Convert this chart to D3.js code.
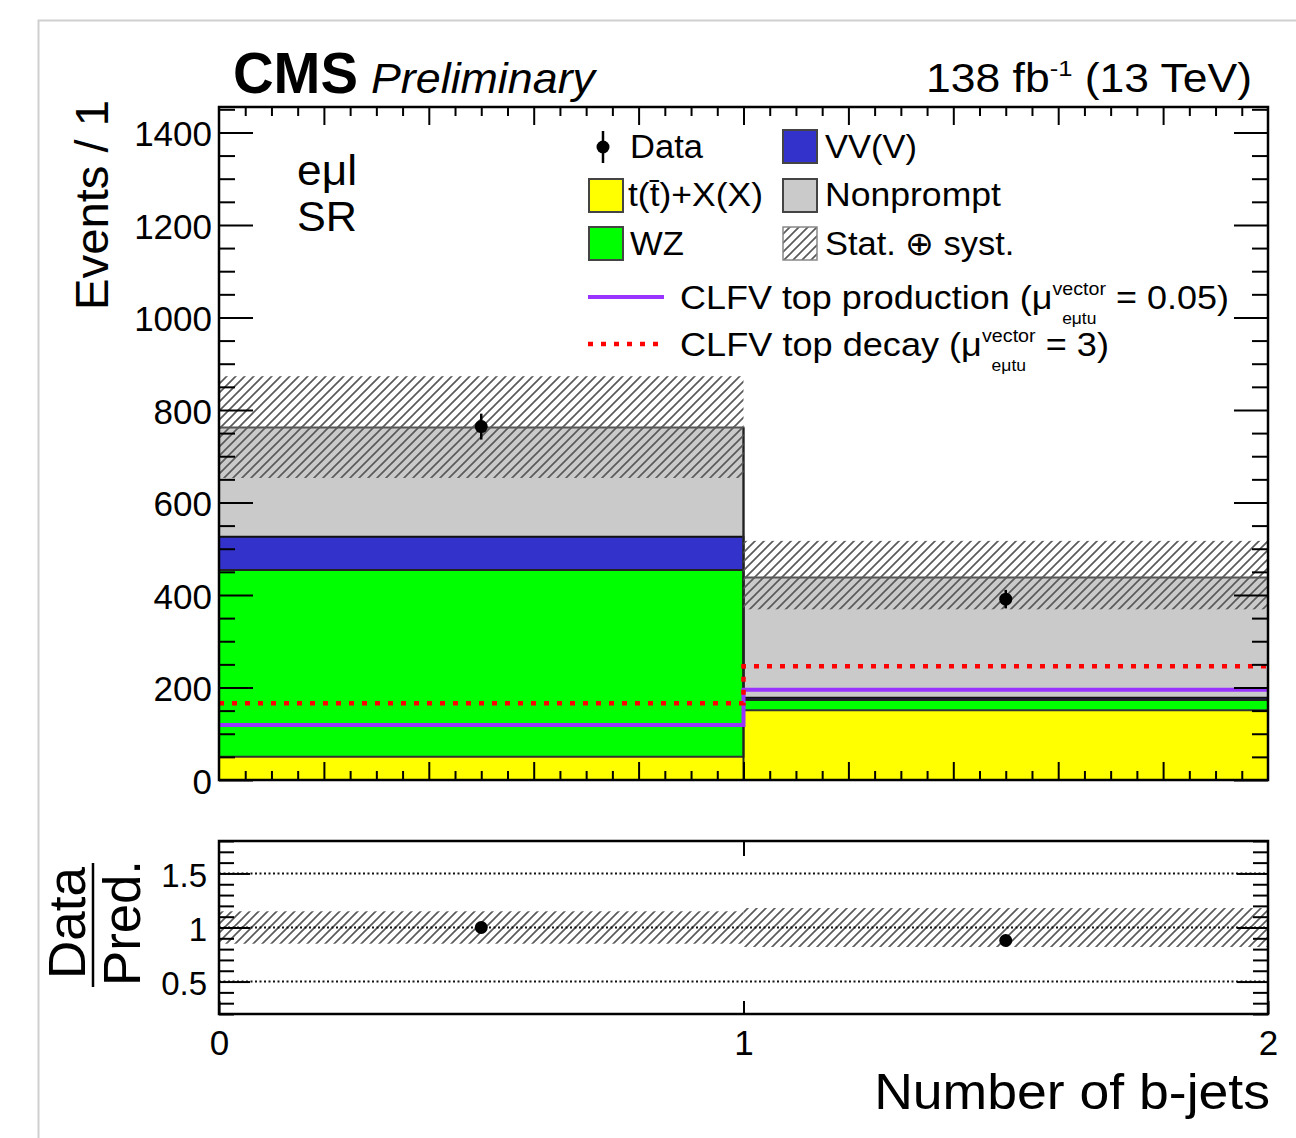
<!DOCTYPE html>
<html><head><meta charset="utf-8">
<script src="https://cdn.jsdelivr.net/npm/d3@7"></script>
<style>
html,body{margin:0;padding:0;background:#fff;}
svg{display:block;font-family:"Liberation Sans",Arial,Helvetica,sans-serif;}
</style></head>
<body>
<svg id="c" width="1296" height="1138"></svg>
<script>
// ---------------- data ----------------
const binEdges = [0, 1, 2];
const binCenters = [0.5, 1.5];
const xTickLabels = ["0", "1", "2"];
const yTicks = [0, 200, 400, 600, 800, 1000, 1200, 1400];
const ratioTicks = [0.5, 1, 1.5];
const bkgKeys = ["ttX", "WZ", "VVV", "Nonprompt"];
const bkgLabels = ["t(t\u0304)+X(X)", "WZ", "VV(V)", "Nonprompt"];
const ttX = [50, 151];
const wz = [404, 22];
const vvv = [72, 5];
const nonprompt = [236, 260];
const uncDown = [653, 369];
const uncUp = [873, 517];
const dataCounts = [764, 391];
const dataErr = [28, 20];
const clfvProd = [119, 195];
const clfvDecay = [166, 246];
const ratioVals = [1.00, 0.88];
const ratioErr = [0.04, 0.05];
const ratioUncDown = [0.85, 0.82];
const ratioUncUp = [1.15, 1.18];
const yMax = 1455;
const ratioRange = [0.2, 1.8];

// ---------------- setup ----------------
const svg = d3.select("#c");
const P = {l: 219, r: 1268, t: 107, b: 780};
const Rp = {t: 841, b: 1014};
const x = d3.scaleLinear().domain([0, 2]).range([P.l, P.r]);
const y = d3.scaleLinear().domain([0, yMax]).range([P.b, P.t]);
const yr = d3.scaleLinear().domain(ratioRange).range([Rp.b, Rp.t]);

const colors = {ttX: "#ffff00", WZ: "#00ff00", VVV: "#3333cc", Nonprompt: "#cacaca"};
const outline = {ttX: "#333", WZ: "#222", VVV: "#111", Nonprompt: "#555"};

// outer border
svg.append("rect").attr("x", 38.5).attr("y", 20.5).attr("width", 1400).attr("height", 1300)
  .attr("fill", "none").attr("stroke", "#cfcfcf").attr("stroke-width", 2);

// hatch pattern
const defs = svg.append("defs");
const pat = defs.append("pattern").attr("id", "hatch").attr("patternUnits", "userSpaceOnUse")
  .attr("width", 9).attr("height", 9);
pat.append("path").attr("d", "M-2,2 l4,-4 M0,9 l9,-9 M7,11 l4,-4")
  .attr("stroke", "#5a5a5a").attr("stroke-width", 1.7).attr("fill", "none");

// text helpers
function txt(parent, s, o) {
  const g = parent.append("g").attr("transform", `translate(${o.x},${o.y})` + (o.rot ? ` rotate(${o.rot})` : ""));
  const inner = g.append("g");
  const t = inner.append("text").attr("font-size", o.size)
    .attr("font-weight", o.weight || "normal").attr("font-style", o.style || "normal")
    .attr("text-anchor", o.anchor || "start").attr("fill", "#000").style("white-space", "pre").text(s);
  if (o.width) {
    const w = t.node().getComputedTextLength();
    inner.attr("transform", `scale(${o.width / w},1)`);
  }
  return g;
}
function rich(parent, parts, o) {
  const g = parent.append("g").attr("transform", `translate(${o.x},${o.y})`);
  const inner = g.append("g");
  let cx = 0;
  parts.forEach(p => {
    if (p.t !== undefined) {
      const t = inner.append("text").attr("x", cx).attr("font-size", p.size || o.size)
        .attr("y", p.dy || 0).style("white-space", "pre").text(p.t);
      cx += t.node().getComputedTextLength();
    } else {
      let w = 0, w1 = 0, w2 = 0;
      let ts, tb;
      if (p.sup) { ts = inner.append("text").attr("x", cx).attr("y", p.supDy).attr("font-size", p.supSize).text(p.sup); w1 = ts.node().getComputedTextLength(); }
      if (p.sub) { tb = inner.append("text").attr("x", cx).attr("y", p.subDy).attr("font-size", p.subSize).text(p.sub); w2 = tb.node().getComputedTextLength(); }
      w = Math.max(w1, w2);
      if (tb && w2 < w) tb.attr("x", cx + (w - w2) / 2);
      cx += w;
    }
  });
  if (o.width) inner.attr("transform", `scale(${o.width / cx},1)`);
  return g;
}

// ---------------- main panel ----------------
const main = svg.append("g");
const clipM = defs.append("clipPath").attr("id", "clipM");
clipM.append("rect").attr("x", P.l).attr("y", P.t).attr("width", P.r - P.l).attr("height", P.b - P.t);

const rows = binCenters.map((c, i) => ({i, ttX: ttX[i], WZ: wz[i], VVV: vvv[i], Nonprompt: nonprompt[i]}));
const stacked = d3.stack().keys(bkgKeys)(rows);

const plot = main.append("g").attr("clip-path", "url(#clipM)");
stacked.forEach(layer => {
  plot.selectAll(null).data(layer).enter().append("rect")
    .attr("x", (d, i) => x(binEdges[i]))
    .attr("width", (d, i) => x(binEdges[i + 1]) - x(binEdges[i]))
    .attr("y", d => y(d[1]))
    .attr("height", d => y(d[0]) - y(d[1]))
    .attr("fill", colors[layer.key]);
});
const stepLine = vals => {
  let d = "";
  vals.forEach((v, i) => {
    d += (i === 0 ? "M" : "L") + x(binEdges[i]) + "," + y(v) + "L" + x(binEdges[i + 1]) + "," + y(v);
  });
  return d;
};
stacked.forEach(layer => {
  plot.append("path").attr("d", stepLine(layer.map(d => d[1])))
    .attr("fill", "none").attr("stroke", outline[layer.key]).attr("stroke-width", 2);
});
plot.append("line").attr("x1", x(1)).attr("x2", x(1))
  .attr("y1", y(d3.max(stacked[stacked.length - 1], d => d[1]))).attr("y2", y(0))
  .attr("stroke", "#222").attr("stroke-width", 2);

// uncertainty hatch
plot.selectAll(null).data(uncUp).enter().append("rect")
  .attr("x", (d, i) => x(binEdges[i])).attr("width", (d, i) => x(binEdges[i + 1]) - x(binEdges[i]))
  .attr("y", d => y(d)).attr("height", (d, i) => y(uncDown[i]) - y(d))
  .attr("fill", "url(#hatch)");

// CLFV signal lines
plot.append("path").attr("d", stepLine(clfvProd)).attr("fill", "none")
  .attr("stroke", "#9933ff").attr("stroke-width", 4);
plot.append("path").attr("d", stepLine(clfvDecay)).attr("fill", "none")
  .attr("stroke", "#ff0000").attr("stroke-width", 4.5).attr("stroke-dasharray", "5,8");

// data
plot.selectAll(null).data(dataCounts).enter().append("line")
  .attr("x1", (d, i) => x(binCenters[i])).attr("x2", (d, i) => x(binCenters[i]))
  .attr("y1", (d, i) => y(d + dataErr[i])).attr("y2", (d, i) => y(d - dataErr[i]))
  .attr("stroke", "#000").attr("stroke-width", 2.5);
plot.selectAll(null).data(dataCounts).enter().append("circle")
  .attr("cx", (d, i) => x(binCenters[i])).attr("cy", d => y(d)).attr("r", 6.5).attr("fill", "#000");

// axes (ticks inside)
function styleAxis(g) {
  g.select(".domain").remove();
  g.selectAll(".tick line").attr("stroke", "#000").attr("stroke-width", 2);
  g.selectAll("text").attr("fill", "#000").attr("font-family", "Liberation Sans, Arial, sans-serif");
}
const yMinor = d3.range(0, yMax, 50).filter(v => v % 200 !== 0);
main.append("g").attr("transform", `translate(${P.l},0)`)
  .call(d3.axisLeft(y).tickValues(yTicks).tickSize(-34).tickPadding(7).tickFormat(d3.format("d")))
  .call(styleAxis).call(g => g.selectAll("text").attr("font-size", 35).attr("dy", "0.38em"));
main.append("g").attr("transform", `translate(${P.l},0)`)
  .call(d3.axisLeft(y).tickValues(yMinor).tickSize(-16).tickFormat("")).call(styleAxis);
main.append("g").attr("transform", `translate(${P.r},0)`)
  .call(d3.axisRight(y).tickValues(yTicks).tickSize(-34).tickFormat("")).call(styleAxis);
main.append("g").attr("transform", `translate(${P.r},0)`)
  .call(d3.axisRight(y).tickValues(yMinor).tickSize(-16).tickFormat("")).call(styleAxis);

const xMid = d3.range(1, 10).map(k => k * 0.2);
const xSmall = d3.range(1, 40).map(k => k * 0.05).filter(v => Math.abs(v / 0.2 - Math.round(v / 0.2)) > 1e-6);
[[P.b, d3.axisBottom], [P.t, d3.axisTop]].forEach(([yy, ax]) => {
  main.append("g").attr("transform", `translate(0,${yy})`)
    .call(ax(x).tickValues(xMid).tickSize(-18).tickFormat("")).call(styleAxis);
  main.append("g").attr("transform", `translate(0,${yy})`)
    .call(ax(x).tickValues(xSmall).tickSize(-9).tickFormat("")).call(styleAxis);
});
main.append("rect").attr("x", P.l).attr("y", P.t).attr("width", P.r - P.l).attr("height", P.b - P.t)
  .attr("fill", "none").attr("stroke", "#000").attr("stroke-width", 2.5);

// ---------------- ratio panel ----------------
const rat = svg.append("g");
const clipR = defs.append("clipPath").attr("id", "clipR");
clipR.append("rect").attr("x", P.l).attr("y", Rp.t).attr("width", P.r - P.l).attr("height", Rp.b - Rp.t);
const rplot = rat.append("g").attr("clip-path", "url(#clipR)");
rplot.selectAll(null).data(ratioUncUp).enter().append("rect")
  .attr("x", (d, i) => x(binEdges[i])).attr("width", (d, i) => x(binEdges[i + 1]) - x(binEdges[i]))
  .attr("y", d => yr(d)).attr("height", (d, i) => yr(ratioUncDown[i]) - yr(d))
  .attr("fill", "url(#hatch)");
ratioTicks.forEach(v => {
  rplot.append("line").attr("x1", P.l).attr("x2", P.r).attr("y1", yr(v)).attr("y2", yr(v))
    .attr("stroke", "#111").attr("stroke-width", 2).attr("stroke-dasharray", "2,2.5");
});
rplot.selectAll(null).data(ratioVals).enter().append("line")
  .attr("x1", (d, i) => x(binCenters[i])).attr("x2", (d, i) => x(binCenters[i]))
  .attr("y1", (d, i) => yr(d + ratioErr[i])).attr("y2", (d, i) => yr(d - ratioErr[i]))
  .attr("stroke", "#000").attr("stroke-width", 2.5);
rplot.selectAll(null).data(ratioVals).enter().append("circle")
  .attr("cx", (d, i) => x(binCenters[i])).attr("cy", d => yr(d)).attr("r", 6.5).attr("fill", "#000");

const rMinor = d3.range(2, 19).map(k => k / 10).filter(v => Math.abs(v * 2 - Math.round(v * 2)) > 1e-6);
rat.append("g").attr("transform", `translate(${P.l},0)`)
  .call(d3.axisLeft(yr).tickValues(ratioTicks).tickSize(-31).tickPadding(12).tickFormat(d => String(d)))
  .call(styleAxis).call(g => g.selectAll("text").attr("font-size", 33).attr("dy", "0.4em"));
rat.append("g").attr("transform", `translate(${P.l},0)`)
  .call(d3.axisLeft(yr).tickValues(rMinor).tickSize(-15).tickFormat("")).call(styleAxis);
rat.append("g").attr("transform", `translate(${P.r},0)`)
  .call(d3.axisRight(yr).tickValues(ratioTicks).tickSize(-31).tickFormat("")).call(styleAxis);
rat.append("g").attr("transform", `translate(${P.r},0)`)
  .call(d3.axisRight(yr).tickValues(rMinor).tickSize(-15).tickFormat("")).call(styleAxis);
rat.append("g").attr("transform", `translate(0,${Rp.b})`)
  .call(d3.axisBottom(x).tickValues(binEdges).tickSize(-13).tickPadding(16).tickFormat((d, i) => xTickLabels[i]))
  .call(styleAxis).call(g => g.selectAll("text").attr("font-size", 35));
rat.append("g").attr("transform", `translate(0,${Rp.t})`)
  .call(d3.axisTop(x).tickValues([1]).tickSize(-15).tickFormat("")).call(styleAxis);
rat.append("rect").attr("x", P.l).attr("y", Rp.t).attr("width", P.r - P.l).attr("height", Rp.b - Rp.t)
  .attr("fill", "none").attr("stroke", "#000").attr("stroke-width", 2.5);

// ---------------- texts ----------------
const T = svg.append("g");
txt(T, "CMS", {x: 233, y: 93, size: 57, weight: "bold", width: 125});
txt(T, "Preliminary", {x: 371, y: 93, size: 43, style: "italic", width: 224});
rich(T, [{t: "138 fb"}, {sup: "-1", supSize: 23, supDy: -16}, {t: " (13 TeV)"}], {x: 926, y: 92, size: 40, width: 326});
txt(T, "e\u03bcl", {x: 297, y: 185, size: 42, width: 60});
txt(T, "SR", {x: 297, y: 231, size: 42, width: 60});
txt(T, "Events / 1", {x: 108, y: 100, rot: -90, size: 46, anchor: "end", width: 210});
txt(T, "Data", {x: 85, y: 923, rot: -90, size: 52, anchor: "middle", width: 112});
txt(T, "Pred.", {x: 140, y: 923, rot: -90, size: 52, anchor: "middle", width: 126});
T.append("line").attr("x1", 93).attr("x2", 93).attr("y1", 863).attr("y2", 987).attr("stroke", "#000").attr("stroke-width", 2.5);
txt(T, "Number of b-jets", {x: 1270, y: 1109, size: 50, anchor: "end", width: 396});

// ---------------- legend ----------------
const L = svg.append("g");
L.append("line").attr("x1", 603).attr("x2", 603).attr("y1", 131).attr("y2", 163).attr("stroke", "#000").attr("stroke-width", 2.5);
L.append("circle").attr("cx", 603).attr("cy", 147).attr("r", 6.5).attr("fill", "#000");
txt(L, "Data", {x: 630, y: 158, size: 33, width: 73});
const boxes = [
  {key: "VVV", x: 783, y: 130, tx: 825, ty: 158, w: 92},
  {key: "ttX", x: 589, y: 179, tx: 628, ty: 206, w: 135},
  {key: "Nonprompt", x: 783, y: 179, tx: 825, ty: 206, w: 176},
  {key: "WZ", x: 589, y: 227, tx: 630, ty: 255, w: 54}
];
boxes.forEach(b => {
  L.append("rect").attr("x", b.x).attr("y", b.y).attr("width", 34).attr("height", 33)
    .attr("fill", colors[b.key]).attr("stroke", "#444").attr("stroke-width", 2);
  txt(L, bkgLabels[bkgKeys.indexOf(b.key)], {x: b.tx, y: b.ty, size: 33, width: b.w});
});
L.append("rect").attr("x", 783).attr("y", 227).attr("width", 34).attr("height", 33)
  .attr("fill", "url(#hatch)").attr("stroke", "#888").attr("stroke-width", 1.5);
txt(L, "Stat. \u2295 syst.", {x: 825, y: 255, size: 33, width: 190});
L.append("line").attr("x1", 588).attr("x2", 664).attr("y1", 297).attr("y2", 297).attr("stroke", "#9933ff").attr("stroke-width", 4);
L.append("line").attr("x1", 588).attr("x2", 664).attr("y1", 344).attr("y2", 344).attr("stroke", "#ff0000").attr("stroke-width", 4.5).attr("stroke-dasharray", "5,8");
rich(L, [{t: "CLFV top production (\u03bc"}, {sup: "vector", supSize: 18, supDy: -14, sub: "e\u03bctu", subSize: 16, subDy: 15}, {t: " = 0.05)"}],
  {x: 680, y: 309, size: 33, width: 549});
rich(L, [{t: "CLFV top decay (\u03bc"}, {sup: "vector", supSize: 18, supDy: -14, sub: "e\u03bctu", subSize: 16, subDy: 15}, {t: " = 3)"}],
  {x: 680, y: 356, size: 33, width: 429});
</script>
</body></html>
